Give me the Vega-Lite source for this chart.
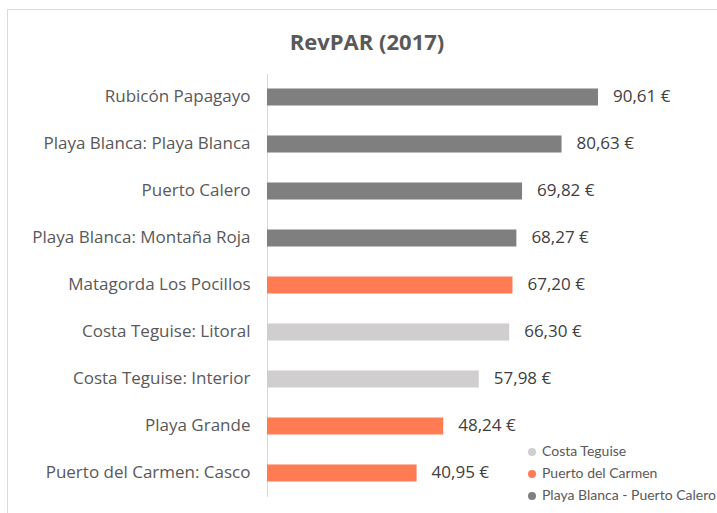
{
  "$schema": "https://vega.github.io/schema/vega-lite/v6.json",
  "width": 710,
  "height": 504,
  "autosize": {"type": "none"},
  "padding": {"left": 7, "top": 9, "right": 0, "bottom": 0},
  "background": "white",
  "config": {
    "view": {"stroke": "#d9d9d9", "strokeWidth": 1},
    "locale": {"number": {"decimal": ",", "thousands": ".", "grouping": [3], "currency": ["", " €"]}},
    "font": "Open Sans"
  },
  "title": {
    "text": "RevPAR (2017)",
    "anchor": "middle",
    "frame": "group",
    "offset": -46,
    "dx": 5,
    "fontSize": 22,
    "fontWeight": "bold",
    "color": "#595959",
    "font": "Open Sans"
  },
  "data": {
    "values": [
      {"zona": "Rubicón Papagayo", "revpar": 90.61, "grupo": "Playa Blanca - Puerto Calero"},
      {"zona": "Playa Blanca: Playa Blanca", "revpar": 80.63, "grupo": "Playa Blanca - Puerto Calero"},
      {"zona": "Puerto Calero", "revpar": 69.82, "grupo": "Playa Blanca - Puerto Calero"},
      {"zona": "Playa Blanca: Montaña Roja", "revpar": 68.27, "grupo": "Playa Blanca - Puerto Calero"},
      {"zona": "Matagorda Los Pocillos", "revpar": 67.20, "grupo": "Puerto del Carmen"},
      {"zona": "Costa Teguise: Litoral", "revpar": 66.30, "grupo": "Costa Teguise"},
      {"zona": "Costa Teguise: Interior", "revpar": 57.98, "grupo": "Costa Teguise"},
      {"zona": "Playa Grande", "revpar": 48.24, "grupo": "Puerto del Carmen"},
      {"zona": "Puerto del Carmen: Casco", "revpar": 40.95, "grupo": "Puerto del Carmen"}
    ]
  },
  "encoding": {
    "y": {
      "field": "zona",
      "type": "nominal",
      "sort": null,
      "scale": {"range": [64.5, 487.5], "paddingInner": 0.638, "paddingOuter": 0.319},
      "axis": {
        "title": null,
        "offset": -260,
        "domainColor": "#d9d9d9",
        "domainWidth": 1,
        "ticks": false,
        "labelPadding": 17,
        "labelFontSize": 17,
        "labelLimit": 400,
        "labelColor": "#595959",
        "labelFont": "Open Sans"
      }
    }
  },
  "layer": [
    {
      "mark": {"type": "bar"},
      "encoding": {
        "x": {
          "field": "revpar",
          "type": "quantitative",
          "scale": {"domain": [-71.17, 123.19], "nice": false, "zero": false},
          "axis": null
        },
        "x2": {"datum": 0},
        "color": {
          "field": "grupo",
          "type": "nominal",
          "scale": {
            "domain": ["Costa Teguise", "Puerto del Carmen", "Playa Blanca - Puerto Calero"],
            "range": ["#d0cece", "#ff7b54", "#7f7f7f"]
          },
          "legend": {
            "title": null,
            "orient": "none",
            "legendX": 518,
            "legendY": 436,
            "symbolType": "circle",
            "symbolSize": 64,
            "symbolOpacity": 1,
            "labelFontSize": 14,
            "labelLimit": 400,
            "labelColor": "#595959",
            "labelFont": "Lato",
            "rowPadding": 8,
            "labelOffset": 3
          }
        }
      }
    },
    {
      "mark": {"type": "text", "align": "left", "baseline": "middle", "dx": 15, "fontSize": 17, "color": "#404040", "font": "Open Sans"},
      "encoding": {
        "x": {"field": "revpar", "type": "quantitative"},
        "text": {"field": "revpar", "type": "quantitative", "format": "$.2f"}
      }
    }
  ]
}
